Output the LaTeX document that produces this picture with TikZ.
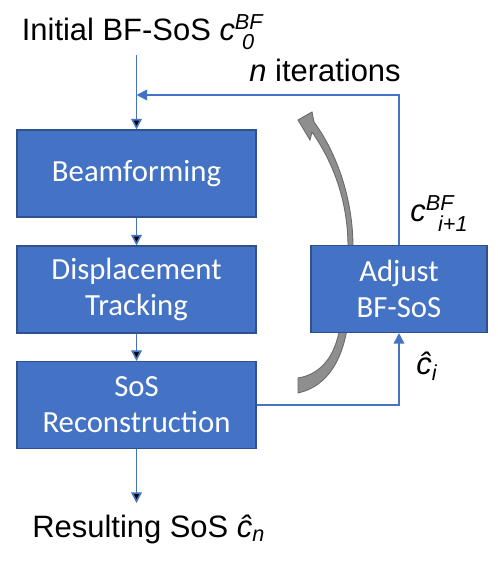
\documentclass[tikz,border=0pt]{standalone}
\usepackage{amsmath}
\usepackage{fontspec}
\setmainfont{Liberation Sans}
\newfontfamily\boxfont{Carlito}
\usepackage{tikz}
\usetikzlibrary{positioning}
\usetikzlibrary{%
  calc,%
  arrows.meta%
}
\definecolor{boxblue}{HTML}{4472C4}
\definecolor{boxedge}{HTML}{2F528F}
\definecolor{arrowgray}{HTML}{8E8E8E}
\definecolor{arrowedge}{HTML}{6A6A6A}

\begin{document}
\begin{tikzpicture}[>={Triangle[length=6pt,width=6pt]},
  flowbox/.style={rectangle, draw=boxedge, line width=0.6pt, fill=boxblue,
    text=white, align=center, minimum width=4.78cm, minimum height=1.74cm,
    font=\boxfont\fontsize{17.5}{20.5}\selectfont},
  flowline/.style={draw=boxblue, line width=0.9pt},
  label/.style={anchor=base west, inner sep=0pt, font=\fontsize{17.6}{21}\selectfont}]
\useasboundingbox (0,0) rectangle (9.96,11.28);

% curved arrow behind the adjust box
\fill[arrowgray, draw=arrowedge, line width=0.5pt]
  (5.96,3.42) .. controls (6.55,3.55) and (6.9,4.1) .. (6.98,5.0)
  .. controls (7.03,5.6) and (7.06,6.0) .. (7.06,6.38)
  .. controls (7.05,7.3) and (6.75,8.2) .. (6.28,8.84)
  -- (6.24,9.04) -- (5.96,8.88) -- (6.20,8.48) -- (6.24,8.64)
  .. controls (6.65,8.05) and (6.95,7.3) .. (6.96,6.38)
  .. controls (6.96,5.9) and (6.9,5.4) .. (6.82,4.9)
  .. controls (6.75,4.2) and (6.45,3.8) .. (5.96,3.72) -- cycle;

\node[flowbox] (beam) at (2.73,7.81) {Beamforming};
\node[flowbox] (disp) at (2.73,5.49) {Displacement\\Tracking};
\node[flowbox] (recon) at (2.73,3.18) {SoS\\Reconstruction};
\node[flowbox, minimum width=3.52cm] (adjust) at (7.98,5.50) {Adjust\\BF-SoS};

\node[label] (init) at (0.43,10.46) {Initial BF-SoS \textit{c}$^{\textit{BF}}_{\hspace{4pt}\textit{0}}$};
\node[label] (iter) at (4.98,9.64) {\textit{n} iterations};
\node[label] (cnext) at (8.20,6.84) {\textit{c}$^{\textit{BF}}_{\hspace{7pt}\textit{i+1}}$};
\node[label] (chat) at (8.32,3.78) {\textit{\^c}$_{\textit{i}}$};
\node[label] (result) at (0.64,0.54) {Resulting SoS \textit{\^c}$_{\textit{n}}$};

\coordinate (start) at (2.73,10.18);
\coordinate (merge) at (2.73,9.38);
\coordinate (resend) at (2.73,1.22);

\draw[flowline]
	(start) edge[->] (beam)
	(beam) edge[->] (disp)
	(disp) edge[->] (recon)
	(recon) edge[->] (resend)
;
\draw[flowline, ->] (adjust.north) |- (merge);
\draw[flowline, ->] (recon.east) -| (adjust.south);
\end{tikzpicture}
\end{document}
